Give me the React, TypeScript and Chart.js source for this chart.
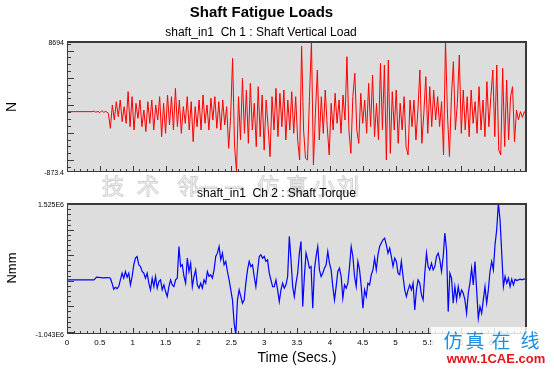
import React, { useEffect, useRef } from "react";
import { Chart, registerables } from "chart.js";

Chart.register(...registerables);

const W = 554;
const H = 369;

// ---------- Titles / labels ----------
const mainTitle = "Shaft Fatigue Loads";
const topSubtitle = "shaft_in1  Ch 1 : Shaft Vertical Load";
const bottomSubtitle = "shaft_in1  Ch 2 : Shaft Torque";
const topYTitle = "N";
const bottomYTitle = "Nmm";
const xTitle = "Time (Secs.)";
const timeTickLabels = ["0", "0.5", "1", "1.5", "2", "2.5", "3", "3.5", "4", "4.5", "5", "5.5", "6", "6.5"];
const vertLoadTickLabels = ["8694", "-873.4"];
const torqueTickLabels = ["1.525E6", "-1.043E6"];
const watermarkChars = ["技", "术", "邻", "—", "—", "仿", "真", "小", "刘"];
const siteName = "仿真在线";
const siteUrl = "www.1CAE.com";

// ---------- Axis ranges ----------
const timeMin = 0;
const timeMax = 7;
const vertLoadMin = -873.4;
const vertLoadMax = 8694;
const torqueMin = -1.043e6;
const torqueMax = 1.525e6;

// ---------- Ch 1 : Shaft Vertical Load (N) ----------
const vertLoadLeadTimes = [0, 0.38, 0.41, 0.44, 0.47, 0.5, 0.53, 0.56, 0.59];
const vertLoadLeadValues = [3534, 3534, 3583, 3485, 3558, 3461, 3607, 3485, 3558];
const vertLoadStart = 0.63;
const vertLoadStep = 0.03;
const vertLoadValues = [
  3412, 2317, 4021, 2925, 4264, 3169, 4386, 2804, 3899, 2682,
  4994, 2439, 4629, 2195, 4142, 3047, 4386, 2439, 3656, 2074,
  4264, 2682, 4386, 2195, 4021, 2925, 4629, 1708, 4142, 1952,
  4751, 2560, 4629, 2195, 5238, 2439, 4386, 1952, 3899, 2682,
  4629, 2195, 4264, 1343, 3899, 2439, 4386, 2195, 4751, 2682,
  4021, 2195, 4508, 2925, 4629, 2317, 4264, 2195, 4386, 2560,
  3899, 857, 3169, 7428, 978, -847, 4629, 1465, 5968, 1952,
  5116, 1222, 5603, 2195, 4142, 978, 5359, 1708, 4751, 735,
  4386, 2439, 248, 4629, 2195, 5238, 1708, 4873, 2439, 5116,
  1465, 4386, 2195, 4994, 1952, 4629, 1465, 5, 8329, 2195,
  126, 5, 4629, 8694, -360, 3412, 6576, 1465, 4629, 1952,
  5116, 2439, 370, 4142, 2195, 4873, 2682, 4386, 1952, 4751,
  2925, 7550, 2195, 491, 4629, 6333, 2195, 1222, 4873, 2682,
  4386, 1952, 5603, 2439, 6211, 1708, 4142, 1465, 7063, 2195,
  6942, 5, 7307, 491, 4994, 2195, 5116, 1222, 4142, 2195,
  4629, 978, 370, 4386, 2439, 4386, 1465, 3656, 6576, 1222,
  3412, 6090, 1952, 5359, 2439, 5116, 2925, 4629, 2439, 4264,
  370, 8694, 3291, 248, 4629, 7185, 2195, 4142, 7672, 1952,
  5116, 2195, 4629, 1708, 5116, 2682, 4264, 1952, 5359, 2195,
  4386, 1708, 5725, 2439, 4629, 6576, 1708, 6942, 735, 370,
  6698, 978, 5846, 1465, 4629, 5359, 1343, 3656, 2925, 3534,
  3120, 3534, 3291,
];

// ---------- Ch 2 : Shaft Torque (values in kNmm, plotted in Nmm) ----------
const torqueLeadTimes = [0, 0.41, 0.45, 0.55, 0.63];
const torqueLeadValuesK = [18, 18, 71, 58, 64];
const torqueStart = 0.66;
const torqueStep = 0.02545;
const torqueValuesK = [
  51, -47, -165, -126, -152, -113, 18, 149, 51, 182,
  71, 149, -80, 84, 313, 444, 477, 313, 280, 182,
  149, 51, 149, -47, -178, 51, -113, 84, -146, -15,
  18, -178, -80, -211, -309, -113, 18, -80, -113, 18,
  51, 673, 280, 313, 84, -47, 444, 182, 346, -113,
  84, 215, -80, -146, -47, -146, 18, -47, 182, 84,
  117, 51, 215, 477, 542, 673, 411, 542, 313, 379,
  182, 18, -178, -375, -833, -1043, -375, -178, -309, -440,
  -375, -47, 215, 379, 280, 313, 84, -113, 182, 477,
  510, 444, 477, 379, 411, 149, 18, -113, -113, 18,
  -178, -408, -178, -47, -146, -80, 84, 870, 411, -113,
  -309, -47, 149, 542, 772, -506, 84, 542, 411, 248,
  280, -539, 215, 477, 673, 215, 84, 149, 248, 313,
  575, 346, 215, -113, -375, -113, 182, 248, 84, -342,
  -80, -146, -47, 280, 673, 477, 84, -113, 379, 215,
  -113, -539, -178, -309, -47, -80, 117, 215, 444, 215,
  510, 673, 739, 804, 837, 706, 542, 641, 477, 280,
  444, 379, 149, 117, 379, 84, -178, -309, -178, -80,
  -178, -47, -571, -178, 18, -47, -277, -375, 149, 542,
  280, 215, 346, 215, 280, 477, 542, 411, 182, 477,
  935, 608, -604, 149, 51, -440, -113, -375, -113, -309,
  -178, -244, -375, -637, -244, -47, 248, -80, 379, -178,
  -735, -506, -637, -375, -113, -440, -178, 182, 379, 215,
  706, 1001, 1525, 1197, 542, -113, 84, -47, 51, -113,
  31, -80, 31, 5, 18, 31, 18, 31, 31, 38,
  38,
];

// ---------- build {x,y} points ----------
const vertLoadPoints = [
  ...vertLoadLeadTimes.map((t, i) => ({ x: t, y: vertLoadLeadValues[i] })),
  ...vertLoadValues.map((v, i) => ({ x: vertLoadStart + i * vertLoadStep, y: v })),
];
const torquePoints = [
  ...torqueLeadTimes.map((t, i) => ({ x: t, y: torqueLeadValuesK[i] * 1000 })),
  ...torqueValuesK.map((v, i) => ({ x: torqueStart + i * torqueStep, y: v * 1000 })),
];

const FONT = '"Liberation Sans", Arial, Helvetica, sans-serif';
const CJK = '"Noto Sans CJK SC", "Noto Sans CJK JP", sans-serif';
const PLOT_BG = "#dddddd";
const FRAME = "#3a3a3a";

type FrameOpts = {
  id: string;
  yStep: number;
  yMajor: number;
  yLabels: string[];
  bottomPanel: boolean;
};

function framePlugin(o: FrameOpts) {
  return {
    id: o.id,
    beforeDatasetsDraw(chart: any) {
      const { ctx, chartArea } = chart;
      const { left, top, right, bottom } = chartArea;
      ctx.save();
      ctx.fillStyle = PLOT_BG;
      ctx.fillRect(left, top, right - left, bottom - top);
      ctx.restore();
    },
    afterDatasetsDraw(chart: any) {
      const { ctx, chartArea } = chart;
      const { left, top, right, bottom } = chartArea;
      const xs = chart.scales.x;
      const ys = chart.scales.y;
      ctx.save();
      ctx.strokeStyle = FRAME;
      ctx.lineWidth = 1;
      ctx.beginPath();
      // x ticks (inward from bottom)
      for (let k = 1; k < 70; k++) {
        const px = Math.round(xs.getPixelForValue(k / 10)) + 0.5;
        const len = k % 5 === 0 ? 6 : 3;
        ctx.moveTo(px, bottom);
        ctx.lineTo(px, bottom - len);
      }
      // y ticks (inward from left)
      const first = Math.ceil(ys.min / o.yStep);
      const last = Math.floor(ys.max / o.yStep);
      for (let k = first; k <= last; k++) {
        const v = k * o.yStep;
        const py = Math.round(ys.getPixelForValue(v)) + 0.5;
        const len = Math.abs((v / o.yMajor) - Math.round(v / o.yMajor)) < 1e-6 ? 7 : 4;
        ctx.moveTo(left, py);
        ctx.lineTo(left + len, py);
      }
      ctx.stroke();
      // frame
      ctx.beginPath();
      ctx.moveTo(left + 0.5, top);
      ctx.lineTo(left + 0.5, bottom);
      ctx.moveTo(left, bottom - 0.5);
      ctx.lineTo(right, bottom - 0.5);
      ctx.stroke();
      ctx.lineWidth = 2;
      ctx.beginPath();
      ctx.moveTo(left, top + 1);
      ctx.lineTo(right, top + 1);
      ctx.moveTo(right - 1, top);
      ctx.lineTo(right - 1, bottom);
      ctx.stroke();

      // y labels (top and bottom)
      ctx.fillStyle = "#000";
      ctx.font = `7px ${FONT}`;
      ctx.textAlign = "right";
      ctx.textBaseline = "middle";
      ctx.fillText(o.yLabels[0], left - 3, top + 2);
      ctx.fillText(o.yLabels[1], left - 3, bottom + 1);

      if (o.bottomPanel) {
        ctx.font = `8px ${FONT}`;
        ctx.textAlign = "center";
        ctx.textBaseline = "middle";
        timeTickLabels.forEach((lab) => {
          ctx.fillText(lab, xs.getPixelForValue(parseFloat(lab)), bottom + 9);
        });
      }
      ctx.restore();
    },
    afterDraw(chart: any) {
      if (!o.bottomPanel) return;
      const { ctx, chartArea } = chart;
      const xs = chart.scales.x;
      ctx.save();
      ctx.fillStyle = "#000";
      ctx.textBaseline = "middle";
      ctx.textAlign = "center";
      // titles
      ctx.font = `bold 15px ${FONT}`;
      ctx.fillText(mainTitle, 261.5, 13);
      ctx.font = `12px ${FONT}`;
      ctx.fillText(topSubtitle, 261, 33);

      // middle watermark
      ctx.font = `22px ${CJK}`;
      ctx.strokeStyle = "rgba(170,170,170,0.55)";
      ctx.lineWidth = 1;
      const wmX = [113, 148, 188, 208, 234, 268, 297, 324, 348];
      watermarkChars.forEach((ch, i) => ctx.strokeText(ch, wmX[i], 186));

      ctx.fillStyle = "#000";
      ctx.font = `12px ${FONT}`;
      ctx.fillText(bottomSubtitle, 276.5, 194);

      // axis titles
      ctx.font = `14px ${FONT}`;
      ctx.fillText(xTitle, (chartArea.left + chartArea.right) / 2, 358);
      ctx.save();
      ctx.translate(12, 107);
      ctx.rotate(-Math.PI / 2);
      ctx.fillText(topYTitle, 0, 0);
      ctx.restore();
      ctx.save();
      ctx.font = `13px ${FONT}`;
      ctx.translate(12, 268);
      ctx.rotate(-Math.PI / 2);
      ctx.fillText(bottomYTitle, 0, 0);
      ctx.restore();

      // corner watermark
      ctx.fillStyle = "rgba(255,255,255,0.82)";
      ctx.fillRect(431, 327, W - 431, H - 327);
      ctx.fillStyle = "#1b8fe6";
      ctx.font = `19px ${CJK}`;
      const sx = [453, 475, 501, 530];
      siteName.split("").forEach((ch, i) => ctx.fillText(ch, sx[i], 341));
      ctx.fillStyle = "#e3151b";
      ctx.font = `bold 13px ${FONT}`;
      ctx.fillText(siteUrl, 496, 359);
      void xs;
      ctx.restore();
    },
  };
}

function baseOptions(yMin: number, yMax: number, padTop: number, padBottom: number) {
  return {
    responsive: false,
    animation: false as const,
    devicePixelRatio: 1,
    layout: { padding: { left: 0, right: 27, top: padTop, bottom: padBottom } },
    plugins: { legend: { display: false }, tooltip: { enabled: false }, title: { display: false } },
    scales: {
      x: {
        type: "linear" as const,
        min: timeMin,
        max: timeMax,
        ticks: { display: false },
        grid: { display: false },
        border: { display: false },
        afterFit: (s: any) => {
          s.height = 0;
        },
      },
      y: {
        type: "linear" as const,
        min: yMin,
        max: yMax,
        ticks: { display: false },
        grid: { display: false },
        border: { display: false },
        afterFit: (s: any) => {
          s.width = 67;
        },
      },
    },
  };
}

export default function App() {
  const topRef = useRef<HTMLCanvasElement>(null);
  const botRef = useRef<HTMLCanvasElement>(null);

  useEffect(() => {
    const c1 = new Chart(topRef.current as HTMLCanvasElement, {
      type: "line",
      data: {
        datasets: [
          {
            data: vertLoadPoints,
            borderColor: "#ff0000",
            borderWidth: 1,
            pointRadius: 0,
            tension: 0,
            fill: false,
          },
        ],
      },
      options: baseOptions(vertLoadMin, vertLoadMax, 41, H - 172) as any,
      plugins: [
        framePlugin({ id: "frameTop", yStep: 500, yMajor: 2000, yLabels: vertLoadTickLabels, bottomPanel: false }),
      ],
    });
    const c2 = new Chart(botRef.current as HTMLCanvasElement, {
      type: "line",
      data: {
        datasets: [
          {
            data: torquePoints,
            borderColor: "#0000ff",
            borderWidth: 1.2,
            pointRadius: 0,
            tension: 0,
            fill: false,
          },
        ],
      },
      options: baseOptions(torqueMin, torqueMax, 203, H - 334) as any,
      plugins: [
        framePlugin({ id: "frameBottom", yStep: 100000, yMajor: 500000, yLabels: torqueTickLabels, bottomPanel: true }),
      ],
    });
    return () => {
      c1.destroy();
      c2.destroy();
    };
  }, []);

  return (
    <div style={{ position: "absolute", left: 0, top: 0, width: W, height: H, background: "#fff", overflow: "hidden" }}>
      <canvas ref={topRef} width={W} height={H} style={{ position: "absolute", left: 0, top: 0 }} />
      <canvas ref={botRef} width={W} height={H} style={{ position: "absolute", left: 0, top: 0 }} />
    </div>
  );
}
